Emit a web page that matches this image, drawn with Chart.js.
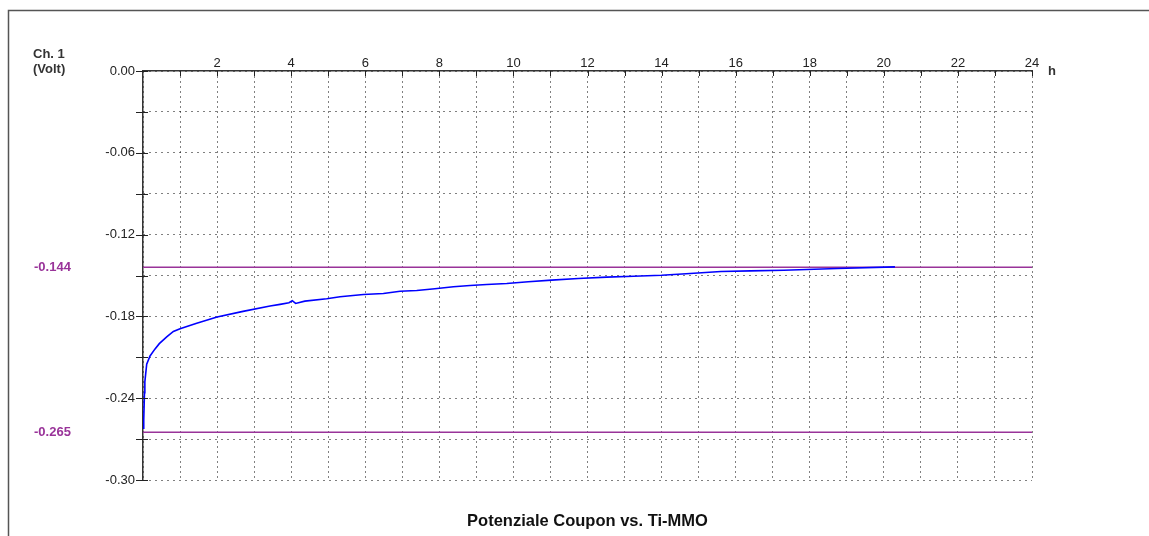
<!DOCTYPE html>
<html>
<head>
<meta charset="utf-8">
<script src="https://cdn.jsdelivr.net/npm/chart.js@4/dist/chart.umd.min.js"></script>
<style>
  html, body { margin: 0; padding: 0; background: #fff; }
  #wrap { width: 1149px; height: 536px; }
</style>
</head>
<body>
<div id="wrap"><canvas id="potChart" width="1149" height="536"></canvas></div>
<script>
// time in hours, potential in volt
var hours = [0.00, 0.02, 0.04, 0.05, 0.10, 0.19, 0.32, 0.44, 0.64, 0.82, 1.00, 1.45, 2.00, 2.70, 3.43, 3.70,
             3.94, 4.03, 4.12, 4.37, 4.96, 5.32, 5.95, 6.49, 6.94, 7.39, 7.88, 8.38, 8.83, 9.28, 9.82,
             10.40, 11.03, 11.75, 12.52, 13.24, 14.00, 14.77, 15.60, 16.40, 17.30, 18.74, 20.30];
var volts = [-0.262, -0.256, -0.236, -0.228, -0.215, -0.209, -0.204, -0.200, -0.195, -0.191, -0.189, -0.185, -0.1805, -0.1763, -0.1724, -0.1712,
             -0.1700, -0.1685, -0.1705, -0.1688, -0.1671, -0.1656, -0.1639, -0.1632, -0.1615, -0.1610, -0.1597, -0.1583, -0.1573, -0.1566, -0.1559,
             -0.1546, -0.1534, -0.1522, -0.1512, -0.1505, -0.1498, -0.1485, -0.1471, -0.1466, -0.1461, -0.1449, -0.1437];
// horizontal limit lines
var limits = [-0.144, -0.265];
var xTickLabels = [2, 4, 6, 8, 10, 12, 14, 16, 18, 20, 22, 24];
var yTickLabels = ['0.00', '-0.06', '-0.12', '-0.18', '-0.24', '-0.30'];

var purple = '#993399';
var font = '"Liberation Sans", Arial, sans-serif';

// frame, extra texts and inward tick marks
var extras = {
    id: 'extras',
    beforeDraw: function(chart) {
        var ctx = chart.ctx;
        ctx.save();
        ctx.fillStyle = '#fff';
        ctx.fillRect(0, 0, chart.width, chart.height);
        ctx.strokeStyle = '#555';
        ctx.lineWidth = 1.5;
        ctx.beginPath();
        ctx.moveTo(8.5, 536);
        ctx.lineTo(8.5, 10.5);
        ctx.lineTo(1149, 10.5);
        ctx.stroke();
        ctx.restore();
    },
    afterDraw: function(chart) {
        var ctx = chart.ctx;
        var xs = chart.scales.x, ys = chart.scales.y;
        var a = chart.chartArea;
        ctx.save();
        // inward ticks
        ctx.strokeStyle = '#222';
        ctx.lineWidth = 1;
        ctx.beginPath();
        for (var h = 1; h <= 24; h++) {
            var px = Math.round(xs.getPixelForValue(h)) + 0.5;
            ctx.moveTo(px, a.top);
            ctx.lineTo(px, a.top + 5);
        }
        for (var k = 0; k <= 10; k++) {
            var py = Math.round(ys.getPixelForValue(-0.03 * k)) + 0.5;
            ctx.moveTo(a.left - 7, py);
            ctx.lineTo(a.left + 5, py);
        }
        ctx.stroke();

        ctx.font = 'bold 13px ' + font;
        ctx.fillStyle = purple;
        ctx.textAlign = 'left';
        ctx.textBaseline = 'middle';
        limits.forEach(function(v) {
            ctx.fillText(v.toFixed(3), 34, ys.getPixelForValue(v));
        });

        ctx.fillStyle = '#333';
        ctx.fillText('Ch. 1', 33, 54);
        ctx.fillText('(Volt)', 33, 69);
        ctx.fillText('h', 1048, 71);

        ctx.fillStyle = '#111';
        ctx.font = 'bold 16.5px ' + font;
        ctx.textAlign = 'center';
        ctx.fillText('Potenziale Coupon vs. Ti-MMO', (a.left + a.right) / 2, 521);
        ctx.restore();
    }
};

var ctx = document.getElementById('potChart').getContext('2d');
var potChart = new Chart(ctx, {
    type: 'line',
    data: {
        datasets: [{
            label: 'Ch. 1',
            data: hours.map(function(h, i) { return {x: h, y: volts[i]}; }),
            borderColor: '#0000ff',
            borderWidth: 1.6,
            pointRadius: 0,
            tension: 0,
            fill: false,
            order: 0
        }].concat(limits.map(function(v) {
            return {
                label: String(v),
                data: [{x: 0, y: v}, {x: 24, y: v}],
                borderColor: purple,
                borderWidth: 1.5,
                pointRadius: 0,
                fill: false,
                order: 1
            };
        }))
    },
    options: {
        responsive: false,
        animation: false,
        layout: { padding: { left: 0, top: 0, right: 117, bottom: 56 } },
        plugins: {
            legend: { display: false },
            tooltip: { enabled: false },
            title: { display: false }
        },
        scales: {
            x: {
                type: 'linear',
                position: 'top',
                min: 0,
                max: 24,
                afterFit: function(s) { s.height = 71; },
                ticks: {
                    stepSize: 1,
                    autoSkip: false,
                    maxRotation: 0,
                    padding: 0,
                    color: '#222',
                    font: { family: font, size: 13 },
                    callback: function(v) {
                        return xTickLabels.indexOf(v) >= 0 ? String(v) : '';
                    }
                },
                grid: { color: '#000', lineWidth: 1, drawTicks: false },
                border: { display: true, color: '#333', width: 1.5, dash: [1, 4] }
            },
            y: {
                type: 'linear',
                min: -0.30,
                max: 0,
                afterFit: function(s) { s.width = 143; },
                ticks: {
                    stepSize: 0.03,
                    autoSkip: false,
                    padding: 8,
                    color: '#222',
                    font: { family: font, size: 13 },
                    callback: function(v) {
                        var k = Math.round(-v / 0.03);
                        return k % 2 === 0 ? yTickLabels[k / 2] : '';
                    }
                },
                grid: { color: '#000', lineWidth: 1, drawTicks: false },
                border: { display: true, color: '#333', width: 1.5, dash: [1, 5] }
            }
        }
    },
    plugins: [extras]
});
</script>
</body>
</html>
